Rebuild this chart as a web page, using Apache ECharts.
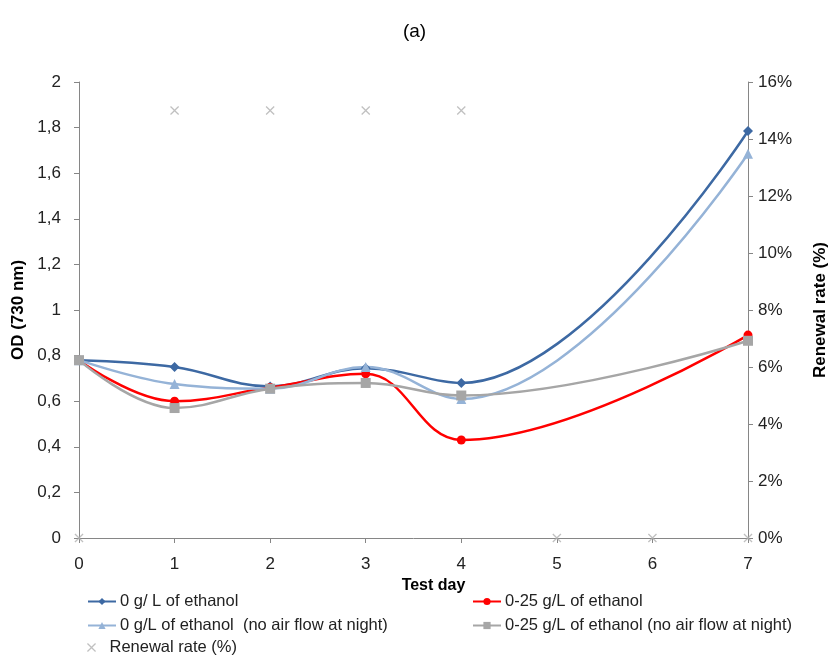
<!DOCTYPE html>
<html>
<head>
<meta charset="utf-8">
<script src="https://cdn.jsdelivr.net/npm/echarts@6/dist/echarts.min.js"></script>
<style>html,body{margin:0;padding:0;background:#fff}#c{width:829px;height:655px}</style>
</head>
<body>
<div id="c"></div>
<script>
// Data
var days = [0, 1, 2, 3, 4, 7];
var od0 = [0.78, 0.75, 0.665, 0.745, 0.68, 1.785];
var od25 = [0.78, 0.60, 0.66, 0.72, 0.43, 0.89];
var od0NoAir = [0.78, 0.675, 0.655, 0.75, 0.61, 1.685];
var od25NoAir = [0.78, 0.57, 0.655, 0.68, 0.625, 0.865];
var renewalDays = [0, 1, 2, 3, 4, 5, 6, 7];
var renewalRate = [0, 15, 15, 15, 15, 0, 0, 0];
var odTicks = { min: 0, max: 2, step: 0.2 };
var rateTicks = { min: 0, max: 16, step: 2 };

function pairs(xs, ys) { return xs.map(function (x, i) { return [x, ys[i]]; }); }

var font = "'Liberation Sans', Arial, sans-serif";
var axisGray = '#868686';
var crossPath = 'path://M0,1L1,0L5,4L9,0L10,1L6,5L10,9L9,10L5,6L1,10L0,9L4,5Z';

function lineSeries(name, data, color, symbol, size) {
  return {
    name: name, type: 'line', smooth: 0.4, yAxisIndex: 0,
    data: pairs(days, data), symbol: symbol, symbolSize: size,
    lineStyle: { color: color, width: 2.5 },
    itemStyle: { color: color }, z: 3
  };
}

var legendText = { fontFamily: font, fontSize: 16.5, color: '#222', padding: [0, 0, 0, -1] };

var chart = echarts.init(document.getElementById('c'));
chart.setOption({
  animation: false,
  title: {
    text: '(a)', left: 'center', top: 17,
    textStyle: { fontFamily: font, fontSize: 19, fontWeight: 'normal', color: '#000' }
  },
  grid: { left: 79, right: 81, top: 82, bottom: 117, outerBoundsMode: 'none', containLabel: false },
  xAxis: {
    type: 'value', min: 0, max: 7, interval: 1,
    name: 'Test day', nameLocation: 'middle', nameGap: 40,
    nameTextStyle: { fontFamily: font, fontSize: 16, fontWeight: 'bold', color: '#000', padding: [0, 0, 0, 40] },
    axisLine: { lineStyle: { color: axisGray } },
    axisTick: { length: 5, lineStyle: { color: axisGray } },
    axisLabel: { fontFamily: font, fontSize: 17, color: '#222', margin: 18 },
    splitLine: { show: false }
  },
  yAxis: [{
    type: 'value', min: odTicks.min, max: odTicks.max, interval: odTicks.step,
    name: 'OD (730 nm)', nameLocation: 'middle', nameGap: 50,
    nameTextStyle: { fontFamily: font, fontSize: 17, fontWeight: 'bold', color: '#000' },
    axisLine: { show: true, lineStyle: { color: axisGray } },
    axisTick: { show: true, length: 5, lineStyle: { color: axisGray } },
    axisLabel: {
      fontFamily: font, fontSize: 17, color: '#222', margin: 18,
      formatter: function (v) { return String(+v.toFixed(1)).replace('.', ','); }
    },
    splitLine: { show: false }
  }, {
    type: 'value', min: rateTicks.min, max: rateTicks.max, interval: rateTicks.step, position: 'right',
    name: 'Renewal rate (%)', nameLocation: 'middle', nameGap: 64, nameRotate: 90,
    nameTextStyle: { fontFamily: font, fontSize: 17, fontWeight: 'bold', color: '#000' },
    axisLine: { show: true, lineStyle: { color: axisGray } },
    axisTick: { show: true, length: 5, lineStyle: { color: axisGray } },
    axisLabel: { fontFamily: font, fontSize: 17, color: '#222', margin: 10, formatter: '{value}%' },
    splitLine: { show: false }
  }],
  legend: [{
    left: 82, top: 588, orient: 'vertical', itemGap: 7, itemWidth: 28, itemHeight: 9,
    textStyle: legendText,
    data: ['0 g/ L of ethanol', '0 g/L of ethanol  (no air flow at night)']
  }, {
    left: 467, top: 588, orient: 'vertical', itemGap: 7, itemWidth: 28, itemHeight: 9,
    textStyle: legendText,
    data: ['0-25 g/L of ethanol', '0-25 g/L of ethanol (no air flow at night)']
  }, {
    left: 82, top: 634, itemWidth: 28, itemHeight: 9,
    textStyle: legendText,
    data: [{ name: 'Renewal rate (%)', icon: crossPath }]
  }],
  series: [
    lineSeries('0 g/ L of ethanol', od0, '#3d69a3', 'diamond', 10),
    lineSeries('0-25 g/L of ethanol', od25, '#ff0000', 'circle', 9),
    lineSeries('0 g/L of ethanol  (no air flow at night)', od0NoAir, '#95b3d7', 'triangle', 10),
    lineSeries('0-25 g/L of ethanol (no air flow at night)', od25NoAir, '#a6a6a6', 'rect', 10),
    {
      name: 'Renewal rate (%)', type: 'scatter', yAxisIndex: 1,
      data: pairs(renewalDays, renewalRate), symbol: crossPath, symbolSize: 9,
      itemStyle: { color: '#b0b0b0' }, z: 4
    }
  ]
});
</script>
</body>
</html>
